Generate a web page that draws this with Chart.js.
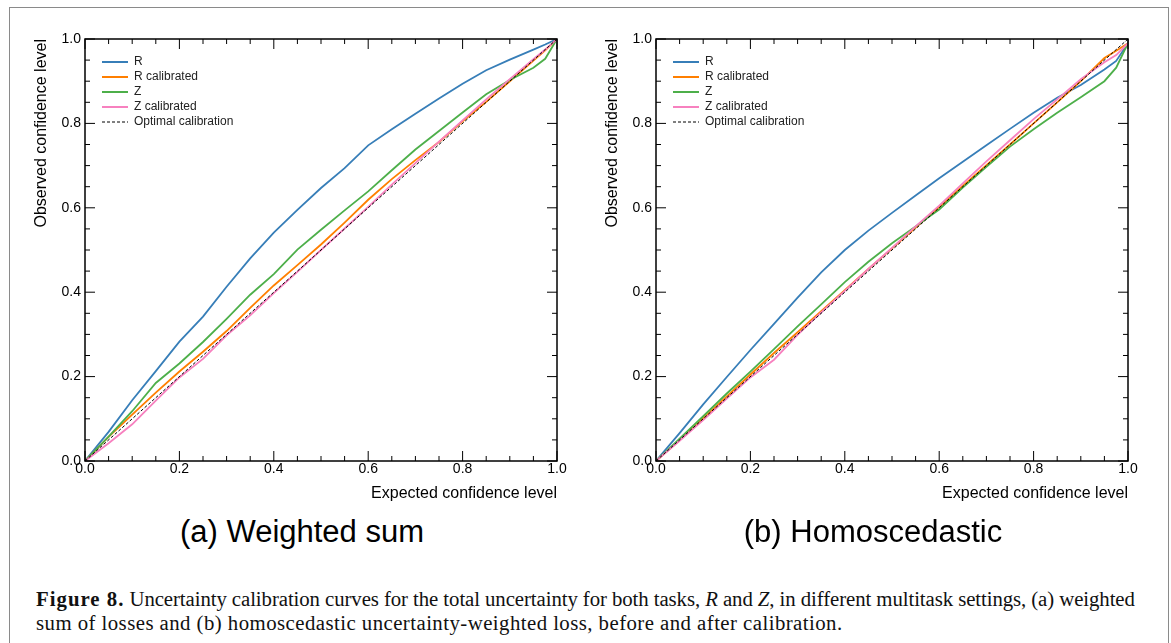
<!DOCTYPE html>
<html>
<head>
<meta charset="utf-8">
<script src="https://cdn.jsdelivr.net/npm/chart.js@4/dist/chart.umd.min.js"></script>
<style>
  html, body { margin: 0; padding: 0; background: #fff; }
  #fig { position: relative; width: 1171px; height: 643px; overflow: hidden; }
  .frame { position: absolute; left: 9px; top: 7px; width: 1158px; height: 700px; border: 1px solid #8a8a8a; }
  .panel { position: absolute; top: 0; width: 585px; height: 510px; }
  .sub { position: absolute; top: 515px; width: 400px; text-align: center;
         font-family: "Liberation Sans", sans-serif; font-size: 31px; line-height: 34px; color: #000; }
  .caption { position: absolute; left: 36px; top: 587px; white-space: nowrap;
             font-family: "Liberation Serif", serif; font-size: 20.8px; line-height: 24px; color: #111; }
  .caption b { letter-spacing: 1px; }
  .caption .l1 { letter-spacing: -0.08px; }
  .caption .l2 { letter-spacing: 0.45px; }
</style>
</head>
<body>
<div id="fig">
  <div class="frame"></div>
  <div class="panel" style="left:0px"><canvas id="chartA"></canvas></div>
  <div class="panel" style="left:571px"><canvas id="chartB"></canvas></div>
  <div class="sub" style="left:102px">(a) Weighted sum</div>
  <div class="sub" style="left:673px">(b) Homoscedastic</div>
  <div class="caption"><b>Figure 8.</b><span class="l1"> Uncertainty calibration curves for the total uncertainty for both tasks, <i>R</i> and <i>Z</i>, in different multitask settings, (a) weighted</span><br><span class="l2">sum of losses and (b) homoscedastic uncertainty-weighted loss, before and after calibration.</span></div>
</div>
<script>
// expected confidence level (x)
const expected = [0, 0.05, 0.1, 0.15, 0.2, 0.25, 0.3, 0.35, 0.4, 0.45, 0.5, 0.55, 0.6, 0.65, 0.7, 0.75, 0.8, 0.85, 0.9, 0.95, 0.975, 1];
const optimalX = [0, 1];
const optimalY = [0, 1];

// (a) weighted sum - observed confidence level
const aR    = [0, 0.069, 0.144, 0.213, 0.283, 0.342, 0.413, 0.480, 0.541, 0.595, 0.647, 0.694, 0.748, 0.786, 0.823, 0.859, 0.894, 0.926, 0.951, 0.975, 0.987, 1.0];
const aRcal = [0, 0.057, 0.110, 0.162, 0.212, 0.259, 0.308, 0.363, 0.416, 0.464, 0.513, 0.565, 0.619, 0.668, 0.713, 0.756, 0.805, 0.851, 0.900, 0.949, 0.973, 1.0];
const aZ    = [0, 0.058, 0.118, 0.185, 0.231, 0.282, 0.337, 0.394, 0.443, 0.501, 0.548, 0.594, 0.639, 0.689, 0.738, 0.782, 0.826, 0.869, 0.903, 0.932, 0.953, 1.0];
const aZcal = [0, 0.042, 0.087, 0.143, 0.198, 0.242, 0.298, 0.345, 0.398, 0.448, 0.500, 0.551, 0.602, 0.655, 0.706, 0.757, 0.807, 0.857, 0.905, 0.952, 0.975, 1.0];

// (b) homoscedastic
const bR    = [0, 0.066, 0.134, 0.199, 0.263, 0.325, 0.387, 0.447, 0.500, 0.546, 0.588, 0.629, 0.670, 0.709, 0.748, 0.787, 0.825, 0.861, 0.891, 0.928, 0.948, 0.99];
const bRcal = [0, 0.049, 0.101, 0.153, 0.205, 0.256, 0.305, 0.355, 0.405, 0.455, 0.504, 0.553, 0.602, 0.652, 0.701, 0.750, 0.800, 0.850, 0.900, 0.955, 0.972, 0.99];
const bZ    = [0, 0.053, 0.106, 0.160, 0.212, 0.265, 0.319, 0.371, 0.424, 0.472, 0.516, 0.556, 0.596, 0.648, 0.697, 0.745, 0.786, 0.825, 0.862, 0.900, 0.932, 0.99];
const bZcal = [0, 0.048, 0.097, 0.148, 0.198, 0.240, 0.299, 0.352, 0.403, 0.455, 0.505, 0.556, 0.605, 0.658, 0.710, 0.760, 0.810, 0.857, 0.905, 0.945, 0.962, 0.99];

const seriesNames = ['R', 'R calibrated', 'Z', 'Z calibrated', 'Optimal calibration'];
const colors = ['#377eb8', '#ff7f00', '#4daf4a', '#f781bf', '#000000'];

const pts = (xs, ys) => xs.map((x, i) => ({x: x, y: ys[i]}));

// matplotlib-like frame with inward major/minor ticks on all four sides
const frameTicks = {
  id: 'frameTicks',
  afterDatasetsDraw(chart) {
    const {ctx, chartArea: a, scales: {x, y}} = chart;
    ctx.save();
    ctx.strokeStyle = '#000';
    ctx.lineWidth = 1;
    const seg = (x1, y1, x2, y2) => { ctx.beginPath(); ctx.moveTo(x1, y1); ctx.lineTo(x2, y2); ctx.stroke(); };
    for (let i = 0; i <= 20; i++) {
      const v = i * 0.05;
      const len = i % 4 === 0 ? 10 : 5;
      const px = x.getPixelForValue(v), py = y.getPixelForValue(v);
      seg(px, a.bottom, px, a.bottom - len);
      seg(px, a.top, px, a.top + len);
      seg(a.left, py, a.left + len, py);
      seg(a.right, py, a.right - len, py);
    }
    ctx.lineWidth = 1.5;
    ctx.strokeRect(a.left, a.top, a.right - a.left, a.bottom - a.top);
    ctx.restore();
  }
};

// put the legend inside the axes, a bit away from the upper-left corner
const legendShift = {
  id: 'legendShift',
  afterLayout(chart) {
    const lg = chart.legend, a = chart.chartArea;
    const w = lg.width, h = lg.height;
    lg.left = a.left + 14; lg.right = lg.left + w;
    lg.top = a.top + 14; lg.bottom = lg.top + h;
  }
};

function makeChart(id, R, Rcal, Z, Zcal) {
  const ys = [R, Rcal, Z, Zcal];
  const datasets = ys.map((s, i) => ({
    label: seriesNames[i],
    data: pts(expected, s),
    borderColor: colors[i],
    backgroundColor: colors[i],
    borderWidth: 1.8,
    order: 4 - i
  }));
  datasets.push({
    label: seriesNames[4],
    data: pts(optimalX, optimalY),
    borderColor: colors[4],
    backgroundColor: colors[4],
    borderWidth: 1,
    borderDash: [3, 2],
    order: 0
  });

  return new Chart(document.getElementById(id), {
    type: 'line',
    data: { datasets: datasets },
    options: {
      responsive: true,
      maintainAspectRatio: false,
      animation: false,
      events: [],
      elements: { point: { radius: 0 }, line: { tension: 0 } },
      layout: { padding: { left: 25, top: 39, right: 28, bottom: 7 } },
      plugins: {
        tooltip: { enabled: false },
        legend: {
          position: 'chartArea',
          align: 'start',
          labels: {
            usePointStyle: true,
            pointStyle: 'line',
            pointStyleWidth: 26,
            padding: 3,
            color: '#222',
            font: { family: 'Liberation Sans', size: 12 },
            sort: (a, b) => a.datasetIndex - b.datasetIndex,
            generateLabels: chart => {
              const items = Chart.defaults.plugins.legend.labels.generateLabels(chart);
              items.forEach(it => {
                const ds = chart.data.datasets[it.datasetIndex];
                it.lineWidth = ds.borderWidth;
                it.lineDash = ds.borderDash || [];
                it.strokeStyle = ds.borderColor;
              });
              return items;
            }
          }
        }
      },
      scales: {
        x: {
          type: 'linear',
          position: 'bottom',
          min: 0, max: 1,
          grid: { display: false, drawTicks: false },
          border: { display: false },
          ticks: {
            stepSize: 0.2, padding: 0, color: '#000',
            font: { family: 'Liberation Sans', size: 14 },
            callback: v => v.toFixed(1)
          },
          title: {
            display: true, text: 'Expected confidence level', align: 'end', color: '#000',
            font: { family: 'Liberation Sans', size: 16 }, padding: { top: 0, bottom: 0 }
          },
          afterFit: s => { s.height = 42; }
        },
        y: {
          type: 'linear',
          position: 'left',
          min: 0, max: 1,
          grid: { display: false, drawTicks: false },
          border: { display: false },
          ticks: {
            stepSize: 0.2, padding: 4, color: '#000',
            font: { family: 'Liberation Sans', size: 14 },
            callback: v => v.toFixed(1)
          },
          title: {
            display: true, text: 'Observed confidence level', align: 'end', color: '#000',
            font: { family: 'Liberation Sans', size: 16 }, padding: { top: 7, bottom: 0 }
          },
          afterFit: s => { s.width = 60; }
        }
      }
    },
    plugins: [frameTicks, legendShift]
  });
}

makeChart('chartA', aR, aRcal, aZ, aZcal);
makeChart('chartB', bR, bRcal, bZ, bZcal);
</script>
</body>
</html>
